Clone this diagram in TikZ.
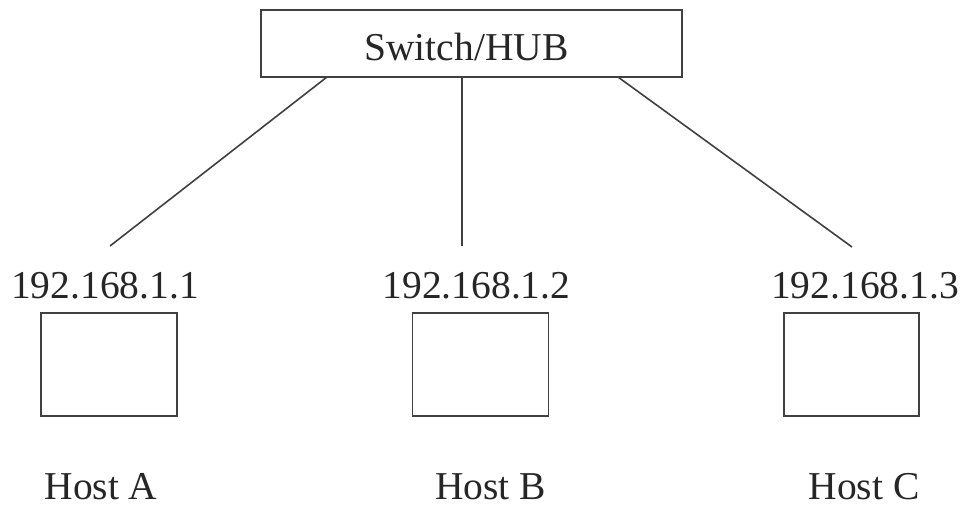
\documentclass[tikz,border=0pt]{standalone}
\usepackage{fontspec}
\setmainfont{Liberation Serif}
\begin{document}
\begin{tikzpicture}[x=1pt,y=-1pt,
  line/.style={draw=black!75,line width=1.6pt},
  hostbox/.style={draw=black!75,line width=1.8pt,minimum width=136pt,minimum height=103pt,inner sep=0pt},
  lbl/.style={font=\fontsize{39.5}{40}\selectfont,inner sep=0pt,anchor=base,text=black!85}]
\useasboundingbox (0,0) rectangle (961,506);
\node[draw=black!75,line width=1.8pt,minimum width=421pt,minimum height=67pt,inner sep=0pt] (sw) at (471.5,43.5) {};
\node[lbl] (swt) at (466.5,60) {Switch/HUB};
\node[hostbox] (ha) at (109,364.5) {};
\node[hostbox] (hb) at (480.5,364.5) {};
\node[hostbox,minimum width=135pt] (hc) at (851.5,364.5) {};
\node[lbl] (ipa) at (105,298) {192.168.1.1};
\node[lbl] (ipb) at (476.5,298) {192.168.1.2};
\node[lbl] (ipc) at (865,298) {192.168.1.3};
\node[lbl] (na) at (101,499) {Host A};
\node[lbl] (nb) at (490.5,499) {Host B};
\node[lbl] (nc) at (864,499) {Host C};
\coordinate (sa) at (327,77);
\coordinate (sb) at (462,77);
\coordinate (sc) at (618,77);
\coordinate (ea) at (110,246);
\coordinate (eb) at (462,246);
\coordinate (ec) at (852,247);
\draw[line] (sa) -- (ea);
\draw[line] (sb) -- (eb);
\draw[line] (sc) -- (ec);
\end{tikzpicture}
\end{document}
